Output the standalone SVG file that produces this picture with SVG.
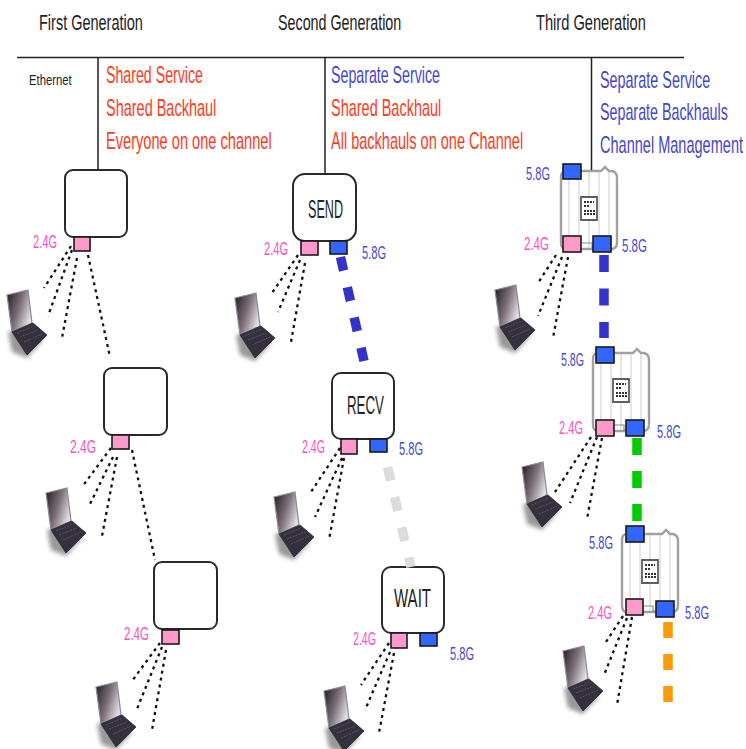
<svg xmlns="http://www.w3.org/2000/svg" xmlns:xlink="http://www.w3.org/1999/xlink" width="746" height="749" viewBox="0 0 746 749">
<style>
text{font-family:"Liberation Sans",Arial,sans-serif}
.h{font-size:22px;fill:#222}
.m{font-size:23px}
.red{fill:#ff3a1a}
.blu{fill:#4646cc}
.f{font-size:18px}
.p24{fill:#ff4fc8}
.p58{fill:#4a4ad0}
.n{font-size:25px;fill:#222}
.box{fill:#fff;stroke:#2a2a2a;stroke-width:2}
.pink{fill:#ff99cc;stroke:#1a1a1a;stroke-width:1.6}
.blue{fill:#3366ff;stroke:#1a1a1a;stroke-width:1.6}
.rule{stroke:#222;stroke-width:1.5;fill:none}
.dot{stroke:#111;stroke-width:2.3;stroke-dasharray:3 4;fill:none}
.bh{fill:none;stroke-width:9.5}
</style>
<defs>
<linearGradient id="scr" x1="0" y1="0" x2="1" y2="0.5">
<stop offset="0" stop-color="#1f181e"/><stop offset="0.55" stop-color="#7d7078"/><stop offset="1" stop-color="#e0dde2"/>
</linearGradient>
<filter id="sh" x="-30%" y="-30%" width="160%" height="160%"><feGaussianBlur stdDeviation="2"/></filter>
<symbol id="laptop" width="48" height="70" viewBox="-6 0 48 70" overflow="visible">
<polygon points="1,42 5,62 20,68 36,50 20,38" fill="#999" filter="url(#sh)"/>
<polygon points="0,5 21,0 25,33 5,42" fill="url(#scr)" stroke="#8a8a9a" stroke-width="1.2"/>
<polygon points="5,42 26,33 40,45 20,65" fill="#35303e" stroke="#2a2733" stroke-width="0.8"/>
<path d="M10,43 L27,36 M13,47 L31,40 M17,52 L35,44" stroke="#57535f" stroke-width="1" fill="none" stroke-dasharray="2 1"/>
</symbol>
<symbol id="ap" width="58" height="82" viewBox="0 0 58 82" overflow="visible">
<path d="M6,1 H41 L45,-3 L49,1 H52 Q57,2 57,8 V72 Q57,79 51,79 H6 Q1,79 1,73 V7 Q1,1 6,1 Z" fill="#fff" stroke="#a0a0a0" stroke-width="2.4"/>
<path d="M9,2 V78 M19,2 V78 M29,2 V26 M29,50 V78 M39,2 V78 M49,2 V78" stroke="#d4d4d4" stroke-width="1.2" fill="none"/>
<path d="M21,27 H37 V50 H21 Z" fill="#fff" stroke="#5e5e5e" stroke-width="1.8"/>
<path d="M24,32 H34 M24,36 H30 M24,41 H35 M24,44 H35" stroke="#333" stroke-width="2.2" stroke-dasharray="2 1" fill="none"/>
<path d="M22,73 H32 V78 H36 V73" stroke="#888" stroke-width="1.2" fill="none"/>
</symbol>
</defs>

<g id="headers">
<text class="h" transform="translate(39,30) scale(.67,1)" textLength="155" lengthAdjust="spacingAndGlyphs">First Generation</text>
<text class="h" transform="translate(278,30) scale(.67,1)" textLength="184" lengthAdjust="spacingAndGlyphs">Second Generation</text>
<text class="h" transform="translate(536,30) scale(.67,1)" textLength="164" lengthAdjust="spacingAndGlyphs">Third Generation</text>
<text transform="translate(29,85) scale(.75,1)" font-size="15" fill="#222" textLength="57" lengthAdjust="spacingAndGlyphs">Ethernet</text>
<text class="m red" transform="translate(106,83) scale(.63,1)" textLength="154" lengthAdjust="spacingAndGlyphs">Shared Service</text>
<text class="m red" transform="translate(106,116) scale(.63,1)" textLength="175" lengthAdjust="spacingAndGlyphs">Shared Backhaul</text>
<text class="m red" transform="translate(106,149) scale(.63,1)" textLength="263" lengthAdjust="spacingAndGlyphs">Everyone on one channel</text>
<text class="m blu" transform="translate(331,83) scale(.63,1)" textLength="173" lengthAdjust="spacingAndGlyphs">Separate Service</text>
<text class="m red" transform="translate(331,116) scale(.63,1)" textLength="175" lengthAdjust="spacingAndGlyphs">Shared Backhaul</text>
<text class="m red" transform="translate(331,149) scale(.63,1)" textLength="305" lengthAdjust="spacingAndGlyphs">All backhauls on one Channel</text>
<text class="m blu" transform="translate(600,88) scale(.63,1)" textLength="175" lengthAdjust="spacingAndGlyphs">Separate Service</text>
<text class="m blu" transform="translate(600,120) scale(.63,1)" textLength="203" lengthAdjust="spacingAndGlyphs">Separate Backhauls</text>
<text class="m blu" transform="translate(600,153) scale(.63,1)" textLength="227" lengthAdjust="spacingAndGlyphs">Channel Management</text>
</g>

<g id="node-g1-1">
<rect class="box" x="65" y="170" width="62" height="67" rx="8"/>
<rect class="pink" x="74" y="237" width="16" height="14"/>
<text class="f p24" x="33" y="248" textLength="24" lengthAdjust="spacingAndGlyphs">2.4G</text>
</g>
<g id="node-g1-2">
<rect class="box" x="104" y="368" width="63" height="67" rx="8"/>
<rect class="pink" x="112" y="435" width="17" height="14"/>
<text class="f p24" x="70" y="453" textLength="26" lengthAdjust="spacingAndGlyphs">2.4G</text>
</g>
<g id="node-g1-3">
<rect class="box" x="154" y="562" width="63" height="67" rx="8"/>
<rect class="pink" x="162" y="630" width="17" height="14"/>
<text class="f p24" x="124" y="640" textLength="25" lengthAdjust="spacingAndGlyphs">2.4G</text>
</g>

<g id="node-send">
<rect class="box" x="293" y="174" width="63" height="67" rx="12"/>
<text class="n" x="308" y="218" textLength="35" lengthAdjust="spacingAndGlyphs">SEND</text>
<rect class="pink" x="301" y="241" width="17" height="14"/>
<rect class="blue" x="330" y="241" width="17" height="13"/>
<text class="f p24" x="264" y="255" textLength="24" lengthAdjust="spacingAndGlyphs">2.4G</text>
<text class="f p58" x="362" y="259" textLength="24" lengthAdjust="spacingAndGlyphs">5.8G</text>
</g>
<g id="node-recv">
<rect class="box" x="332" y="373" width="62" height="66" rx="9"/>
<text class="n" x="347" y="414" textLength="37" lengthAdjust="spacingAndGlyphs">RECV</text>
<rect class="pink" x="341" y="439" width="16" height="15"/>
<rect class="blue" x="370" y="439" width="17" height="13"/>
<text class="f p24" x="302" y="453" textLength="23" lengthAdjust="spacingAndGlyphs">2.4G</text>
<text class="f p58" x="399" y="455" textLength="24" lengthAdjust="spacingAndGlyphs">5.8G</text>
</g>
<g id="node-wait">
<rect class="box" x="382" y="567" width="62" height="66" rx="9"/>
<text class="n" x="394" y="607" textLength="37" lengthAdjust="spacingAndGlyphs">WAIT</text>
<rect class="pink" x="391" y="633" width="16" height="15"/>
<rect class="blue" x="420" y="633" width="17" height="13"/>
<text class="f p24" x="353" y="645" textLength="23" lengthAdjust="spacingAndGlyphs">2.4G</text>
<text class="f p58" x="450" y="660" textLength="24" lengthAdjust="spacingAndGlyphs">5.8G</text>
</g>

<g id="node-ap-1">
<use xlink:href="#ap" href="#ap" x="560" y="170"/>
<rect class="blue" x="563" y="164" width="18" height="15"/>
<rect class="pink" x="563" y="236" width="18" height="16"/>
<rect class="blue" x="593" y="236" width="18" height="16"/>
<text class="f p58" x="526" y="180" textLength="24" lengthAdjust="spacingAndGlyphs">5.8G</text>
<text class="f p24" x="524" y="250" textLength="25" lengthAdjust="spacingAndGlyphs">2.4G</text>
<text class="f p58" x="622" y="252" textLength="25" lengthAdjust="spacingAndGlyphs">5.8G</text>
</g>
<g id="node-ap-2">
<use xlink:href="#ap" href="#ap" x="592" y="352"/>
<rect class="blue" x="596" y="347" width="18" height="16"/>
<rect class="pink" x="596" y="420" width="18" height="16"/>
<rect class="blue" x="626" y="420" width="18" height="16"/>
<text class="f p58" x="561" y="366" textLength="23" lengthAdjust="spacingAndGlyphs">5.8G</text>
<text class="f p24" x="559" y="434" textLength="24" lengthAdjust="spacingAndGlyphs">2.4G</text>
<text class="f p58" x="657" y="438" textLength="24" lengthAdjust="spacingAndGlyphs">5.8G</text>
</g>
<g id="node-ap-3">
<use xlink:href="#ap" href="#ap" x="621" y="533"/>
<rect class="blue" x="626" y="526" width="18" height="16"/>
<rect class="pink" x="626" y="599" width="17" height="16"/>
<rect class="blue" x="656" y="601" width="18" height="16"/>
<text class="f p58" x="589" y="549" textLength="24" lengthAdjust="spacingAndGlyphs">5.8G</text>
<text class="f p24" x="588" y="619" textLength="24" lengthAdjust="spacingAndGlyphs">2.4G</text>
<text class="f p58" x="685" y="619" textLength="24" lengthAdjust="spacingAndGlyphs">5.8G</text>
</g>

<g id="laptops">
<use id="laptop-1" xlink:href="#laptop" href="#laptop" x="1" y="290"/>
<use id="laptop-2" xlink:href="#laptop" href="#laptop" x="40" y="488"/>
<use id="laptop-3" xlink:href="#laptop" href="#laptop" x="90" y="682"/>
<use id="laptop-4" xlink:href="#laptop" href="#laptop" x="229" y="293"/>
<use id="laptop-5" xlink:href="#laptop" href="#laptop" x="268" y="492"/>
<use id="laptop-6" xlink:href="#laptop" href="#laptop" x="318" y="686"/>
<use id="laptop-7" xlink:href="#laptop" href="#laptop" x="489" y="285"/>
<use id="laptop-8" xlink:href="#laptop" href="#laptop" x="516" y="462"/>
<use id="laptop-9" xlink:href="#laptop" href="#laptop" x="557" y="646"/>
</g>

<g id="connectors">
<path class="rule" d="M17,57.5 H684 M98,57.5 V170 M325,57.5 V174 M591.5,57.5 V170"/>
<path class="dot" d="M71,246 L44,288 M72,250 L48,316 M77,258 L62,338 M88,255 L110,357"/>
<path class="dot" d="M111,448 L82,487 M113,457 L89,506 M117,457 L102,536 M132,450 L155,560"/>
<path class="dot" d="M160,643 L132,681 M162,647 L137,709 M166,650 L152,730"/>
<path class="dot" d="M298,255 L272,293 M300,260 L278,312 M305,263 L291,342"/>
<path class="dot" d="M340,448 L311,492 M342,458 L315,517 M344,458 L329,540"/>
<path class="dot" d="M389,643 L361,685 M390,652 L365,710 M394,653 L379,733"/>
<path class="dot" d="M556,255 L538,283 M562,257 L538,316 M568,257 L553,338"/>
<path class="dot" d="M591,437 L555,492 M597,437 L570,503 M602,438 L587,519"/>
<path class="dot" d="M623,616 L604,645 M627,618 L604,675 M632,617 L617,705"/>
<path class="bh" stroke="#3333cc" stroke-dasharray="14 17" d="M340.5,257 L364,361"/>
<path class="bh" stroke="#dcdcdc" stroke-dasharray="14 17" d="M387.5,467 L411,567"/>
<path class="bh" stroke="#3333cc" stroke-dasharray="17 16.5" d="M604,255 V338"/>
<path class="bh" stroke="#00cc00" stroke-width="8" stroke-dasharray="17 16" d="M637,438 V521"/>
<path class="bh" stroke="#ff9900" stroke-dasharray="16 16" d="M668,622 V703"/>
</g>
</svg>
